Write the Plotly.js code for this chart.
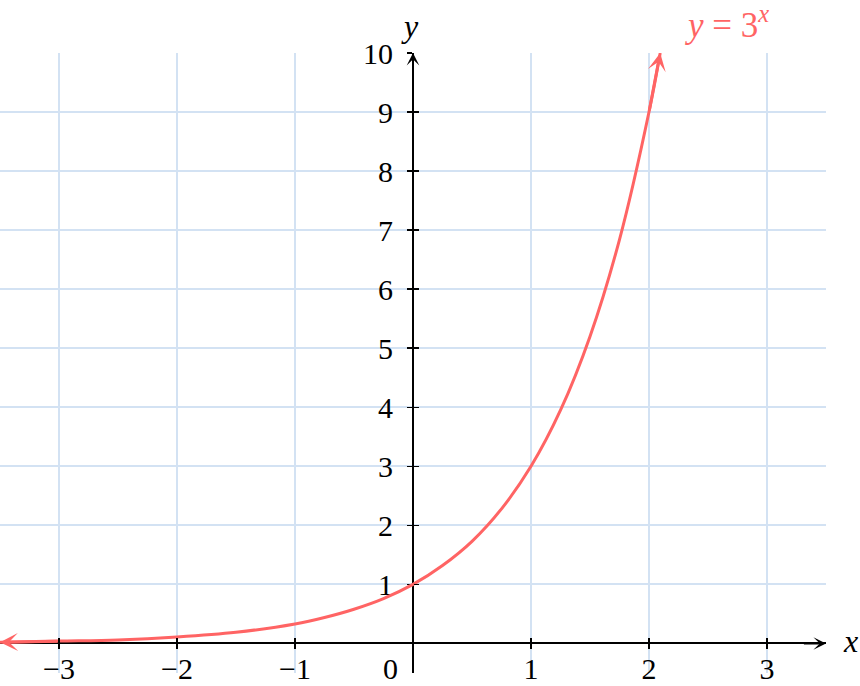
<!DOCTYPE html>
<html>
<head>
<meta charset="utf-8">
<script src="https://cdn.plot.ly/plotly-3.0.1.min.js"></script>
<style>
  html, body { margin: 0; padding: 0; background: #ffffff; }
  #chart { width: 860px; height: 686px; }
</style>
</head>
<body>
<div id="chart"></div>
<script>
// Values
const xTicks = [-3, -2, -1, 1, 2, 3];
const yTicks = [1, 2, 3, 4, 5, 6, 7, 8, 9, 10];
const curveX = [-3.5, -3, -2.5, -2, -1.5, -1, -0.75, -0.5, -0.25, 0, 0.25, 0.5, 0.75, 1, 1.25, 1.5, 1.75, 2, 2.095];
const curveY = [0.02, 0.04, 0.06, 0.11, 0.19, 0.33, 0.44, 0.58, 0.76, 1, 1.32, 1.73, 2.28, 3, 3.95, 5.2, 6.84, 9, 10];
const curveLabel = '<i>y</i> = 3<sup><i>x</i></sup>';

const red = '#ff6464';
const grid = '#d3e2f3';
const xRange = [-3.5, 3.5];
const yRange = [-0.5, 10];
const xAxisPos = (0 - yRange[0]) / (yRange[1] - yRange[0]);
const yAxisPos = (0 - xRange[0]) / (xRange[1] - xRange[0]);
const fam = '"Liberation Serif", "DejaVu Serif", serif';
const fs = 30;

const n = curveX.length;

const traces = [
  {
    x: curveX, y: curveY, type: 'scatter', mode: 'lines',
    line: { color: red, width: 3, shape: 'spline', smoothing: 1 },
    hoverinfo: 'skip', showlegend: false
  },
  {
    x: [], y: [], xaxis: 'x2', yaxis: 'y2', type: 'scatter', mode: 'lines',
    hoverinfo: 'skip', showlegend: false
  }
];

const commonTick = { tickcolor: '#000', tickwidth: 1.5, ticklen: 5 };

const layout = {
  width: 860, height: 686,
  margin: { l: 0, r: 34, t: 53, b: 13 },
  paper_bgcolor: '#fff', plot_bgcolor: '#fff',
  font: { family: fam, size: fs, color: '#000' },
  showlegend: false,
  xaxis: Object.assign({
    range: xRange, tickmode: 'array', tickvals: xTicks,
    showgrid: true, gridcolor: grid, gridwidth: 2,
    zeroline: false, showline: true, linecolor: '#000', linewidth: 2,
    ticks: 'outside', anchor: 'free', position: xAxisPos, ticklabelstandoff: -6,
    layer: 'below traces', tickfont: { family: fam, size: fs }, fixedrange: true
  }, commonTick),
  yaxis: Object.assign({
    range: yRange, tickmode: 'array', tickvals: yTicks,
    showgrid: true, gridcolor: grid, gridwidth: 2,
    zeroline: false, showline: true, linecolor: '#000', linewidth: 2,
    ticks: 'outside', anchor: 'free', position: yAxisPos, ticklabelstandoff: 8,
    layer: 'below traces', tickfont: { family: fam, size: fs }, fixedrange: true
  }, commonTick),
  xaxis2: Object.assign({
    range: xRange, tickmode: 'array', tickvals: xTicks, overlaying: 'x',
    showgrid: false, zeroline: false, showline: false, showticklabels: false,
    ticks: 'inside', anchor: 'free', position: xAxisPos, fixedrange: true
  }, commonTick),
  yaxis2: Object.assign({
    range: yRange, tickmode: 'array', tickvals: yTicks, overlaying: 'y',
    showgrid: false, zeroline: false, showline: false, showticklabels: false,
    ticks: 'inside', anchor: 'free', position: yAxisPos, fixedrange: true
  }, commonTick),
  annotations: [
    // axis arrowheads
    { x: xRange[1], y: 0, ax: xRange[1] - 0.2, ay: 0, xref: 'x', yref: 'y', axref: 'x', ayref: 'y',
      text: '', showarrow: true, arrowhead: 3, arrowsize: 1.05, arrowwidth: 2, arrowcolor: '#000', standoff: 0 },
    { x: 0, y: yRange[1], ax: 0, ay: yRange[1] - 0.4, xref: 'x', yref: 'y', axref: 'x', ayref: 'y',
      text: '', showarrow: true, arrowhead: 3, arrowsize: 1.05, arrowwidth: 2, arrowcolor: '#000', standoff: 0 },
    // curve arrowheads
    { x: curveX[0], y: curveY[0], ax: curveX[1], ay: curveY[1], xref: 'x', yref: 'y', axref: 'x', ayref: 'y',
      text: '', showarrow: true, arrowhead: 3, arrowsize: 1, arrowwidth: 3, arrowcolor: red, standoff: 0 },
    { x: curveX[n - 1], y: curveY[n - 1], ax: curveX[n - 2], ay: curveY[n - 2], xref: 'x', yref: 'y', axref: 'x', ayref: 'y',
      text: '', showarrow: true, arrowhead: 3, arrowsize: 1, arrowwidth: 3, arrowcolor: red, standoff: 0 },
    // origin label
    { x: 0, y: 0, xref: 'x', yref: 'y', text: '0', showarrow: false,
      xshift: -23, yshift: -25, font: { family: fam, size: fs, color: '#000' } },
    // axis titles
    { x: xRange[1], y: 0, xref: 'x', yref: 'y', text: '<i>x</i>', showarrow: false,
      xshift: 24, yshift: 2, font: { family: fam, size: 32, color: '#000' } },
    { x: 0, y: yRange[1], xref: 'x', yref: 'y', text: '<i>y</i>', showarrow: false,
      xshift: -3, yshift: 27, font: { family: fam, size: 32, color: '#000' } },
    // curve label
    { x: 2.66, y: yRange[1], xref: 'x', yref: 'y', text: curveLabel, showarrow: false,
      yshift: 31, font: { family: fam, size: 35, color: red } }
  ]
};

Plotly.newPlot('chart', traces, layout, { staticPlot: true, displayModeBar: false });
</script>
</body>
</html>
